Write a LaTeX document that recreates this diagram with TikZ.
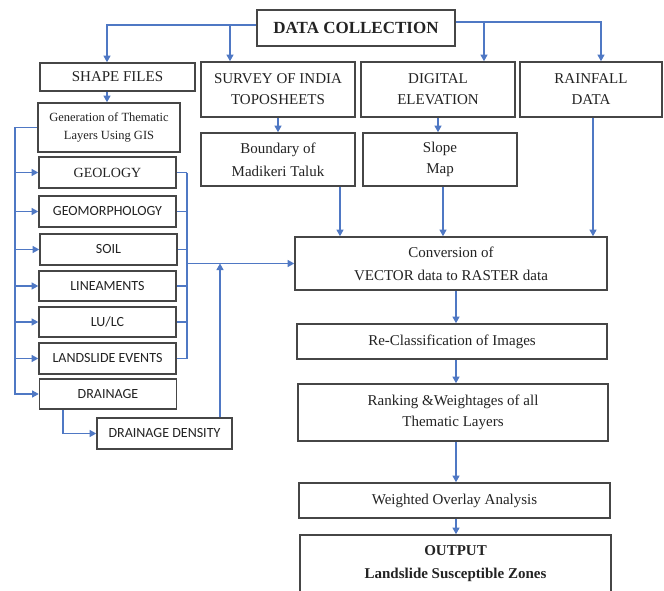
\documentclass[tikz,border=0pt]{standalone}
\usepackage{fontspec}
\setmainfont{Liberation Serif}
\newfontfamily\calibfont{Carlito}
\usetikzlibrary{arrows.meta}
\definecolor{conncol}{RGB}{79,120,196}
\definecolor{boxcol}{RGB}{70,70,70}
\definecolor{txtcol}{RGB}{35,35,35}
\tikzset{
 box/.style={draw=boxcol, line width=1.6pt, fill=white, inner sep=0pt, align=center, text=txtcol, font=\fontsize{15}{21}\selectfont},
 sbox/.style={box, minimum width=137pt, minimum height=31pt, font=\calibfont\fontsize{14}{17}\selectfont},
 conn/.style={draw=conncol, line width=1.1pt, -{Triangle[width=7pt,length=6.5pt]}},
 bus/.style={draw=conncol, line width=1.1pt},
}
\begin{document}
\begin{tikzpicture}[x=1pt,y=-1pt]
\useasboundingbox (0,0) rectangle (664,591);
\clip (0,0) rectangle (664,591);
% top row
\node[box, minimum width=198pt, minimum height=36pt, font=\bfseries\fontsize{17}{20}\selectfont] (data) at (356,28) {DATA COLLECTION};
\node[box, minimum width=155pt, minimum height=28pt] (shape) at (117.5,77) {SHAPE FILES};
\node[box, minimum width=154pt, minimum height=55pt] (survey) at (278,89.5) {SURVEY OF INDIA\\TOPOSHEETS};
\node[box, minimum width=154pt, minimum height=55pt] (digital) at (438,89.5) {DIGITAL\\ELEVATION};
\node[box, minimum width=142pt, minimum height=55pt] (rain) at (591,89.5) {RAINFALL\\DATA};
% second row
\node[box, minimum width=142pt, minimum height=49pt, font=\fontsize{12.5}{18}\selectfont] (gen) at (109,127.5) {Generation of Thematic\\Layers Using GIS};
\node[box, minimum width=154pt, minimum height=53pt, font=\fontsize{15}{23}\selectfont] (bound) at (278,159.5) {Boundary of\\Madikeri Taluk};
\node[box, minimum width=154pt, minimum height=53pt] (slope) at (440,159.5) {Slope\\Map};
% thematic layers
\node[sbox, font=\fontsize{14}{17}\selectfont] (geology) at (107.5,172.5) {GEOLOGY};
\node[sbox] (geomorph) at (107.5,211.5) {GEOMORPHOLOGY};
\node[sbox] (soil) at (108.5,249.5) {SOIL};
\node[sbox, minimum height=30pt] (linea) at (107.5,286) {LINEAMENTS};
\node[sbox, minimum height=30pt] (lulc) at (107.5,322) {LU/LC};
\node[sbox] (landslide) at (107.5,358.5) {LANDSLIDE EVENTS};
\node[sbox, minimum height=30pt] (drainage) at (108,394) {DRAINAGE};
\node[sbox, minimum width=135pt] (ddensity) at (164.5,433.5) {DRAINAGE DENSITY};
% main column
\node[box, minimum width=312pt, minimum height=53pt, font=\fontsize{15}{23}\selectfont] (conv) at (451,263.5) {Conversion of\\VECTOR data to RASTER data};
\node[box, minimum width=310pt, minimum height=35pt] (reclass) at (452,341.5) {Re-Classification of Images};
\node[box, minimum width=310pt, minimum height=57pt] (rank) at (453,412.5) {Ranking \&Weightages of all\\Thematic Layers};
\node[box, minimum width=311pt, minimum height=35pt] (weighted) at (454.5,500.5) {Weighted Overlay Analysis};
\node[box, minimum width=311pt, minimum height=58pt, font=\bfseries\fontsize{15}{23}\selectfont] (output) at (455.5,564) {OUTPUT\\Landslide Susceptible Zones};
% helper coordinates
\coordinate (xA) at (107,0);
\coordinate (xB) at (230,0);
\coordinate (xC) at (484,0);
\coordinate (xD) at (601,0);
\coordinate (yL) at (0,25);
\coordinate (yR) at (0,22);
\coordinate (xE) at (15,0);
\coordinate (xF) at (187,0);
\coordinate (xG) at (63,0);
\coordinate (xH) at (220,0);
\coordinate (xI) at (340,0);
\coordinate (xJ) at (443,0);
\coordinate (xK) at (593,0);
\coordinate (xM) at (456,0);
% connectors from data collection
\draw[conn] (data.west |- yL) -| (shape.north -| xA);
\draw[conn] (xB |- yL) -- (survey.north -| xB);
\draw[conn] (data.east |- yR) -| (rain.north -| xD);
\draw[conn] (xC |- yR) -- (digital.north -| xC);
% second level
\draw[conn] (shape.south -| xA) -- (gen.north -| xA);
\draw[conn] (survey.south) -- (bound.north);
\draw[conn] (digital.south) -- (digital.south |- slope.north);
% into conversion
\draw[conn] (bound.south -| xI) -- (conv.north -| xI);
\draw[conn] (slope.south -| xJ) -- (conv.north -| xJ);
\draw[conn] (rain.south -| xK) -- (conv.north -| xK);
% main chain
\draw[conn] (conv.south -| xM) -- (reclass.north -| xM);
\draw[conn] (reclass.south -| xM) -- (rank.north -| xM);
\draw[conn] (rank.south -| xM) -- (weighted.north -| xM);
\draw[conn] (weighted.south -| xM) -- (output.north -| xM);
% left bus
\draw[conn] (gen.west) -| (xE |- drainage.west) -- (drainage.west);
\foreach \n in {geology,geomorph,soil,linea,lulc,landslide}
  \draw[conn] (xE |- \n.west) -- (\n.west);
% right bus
\foreach \n in {geology,geomorph,soil,linea,lulc,landslide}
  \draw[bus] (\n.east) -- (xF |- \n.east);
\draw[bus] (xF |- geology.east) -- (xF |- landslide.east);
\draw[conn] (xF |- conv.west) -- (conv.west);
\draw[conn] (drainage.south -| xG) |- (ddensity.west);
\draw[conn] (ddensity.north -| xH) -- (xH |- conv.west);
\end{tikzpicture}
\end{document}
